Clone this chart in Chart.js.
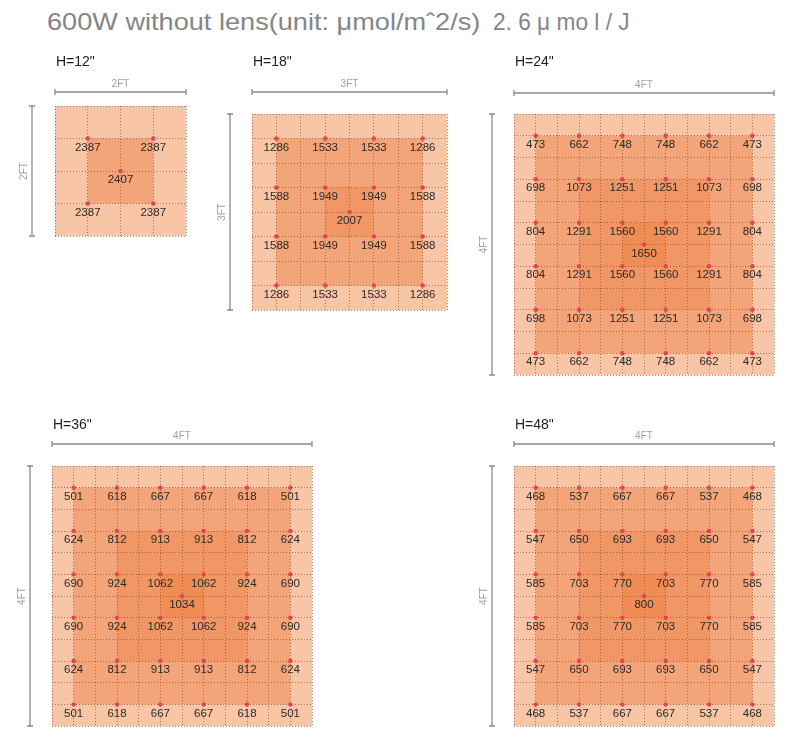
<!DOCTYPE html>
<html>
<head>
<meta charset="utf-8">
<script src="https://cdn.jsdelivr.net/npm/chart.js@4.4.1/dist/chart.umd.min.js"></script>
<style>
  body { margin: 0; background: #fff; width: 811px; height: 750px; position: relative; overflow: hidden; font-family: "Liberation Sans", Arial, sans-serif; }
  .head { position: absolute; top: 7px; font-size: 24px; color: #858585; white-space: nowrap; transform-origin: 0 0; line-height: 30px; }
  canvas { position: absolute; left: 0; top: 0; }
</style>
</head>
<body>
<span class="head" id="head1">600W without lens(unit: μmol/mˆ2/s)</span>
<span class="head" id="head2">2. 6 μ mo l / J</span>
<canvas id="c0"></canvas>
<canvas id="c1"></canvas>
<canvas id="c2"></canvas>
<canvas id="c3"></canvas>
<canvas id="c4"></canvas>
<script>
// Heights and area spans for each map
const heights = ['H=12"', 'H=18"', 'H=24"', 'H=36"', 'H=48"'];
const spans = ['2FT', '3FT', '4FT', '4FT', '4FT'];
const gridCells = [4, 8, 12, 12, 12];

// PPFD readings, row by row (µmol/m²/s)
const ppfd12 = [
  [2387, 2387],
  [2387, 2387]
];
const ppfd18 = [
  [1286, 1533, 1533, 1286],
  [1588, 1949, 1949, 1588],
  [1588, 1949, 1949, 1588],
  [1286, 1533, 1533, 1286]
];
const ppfd24 = [
  [473, 662, 748, 748, 662, 473],
  [698, 1073, 1251, 1251, 1073, 698],
  [804, 1291, 1560, 1560, 1291, 804],
  [804, 1291, 1560, 1560, 1291, 804],
  [698, 1073, 1251, 1251, 1073, 698],
  [473, 662, 748, 748, 662, 473]
];
const ppfd36 = [
  [501, 618, 667, 667, 618, 501],
  [624, 812, 913, 913, 812, 624],
  [690, 924, 1062, 1062, 924, 690],
  [690, 924, 1062, 1062, 924, 690],
  [624, 812, 913, 913, 812, 624],
  [501, 618, 667, 667, 618, 501]
];
const ppfd48 = [
  [468, 537, 667, 667, 537, 468],
  [547, 650, 693, 693, 650, 547],
  [585, 703, 770, 703, 770, 585],
  [585, 703, 770, 703, 770, 585],
  [547, 650, 693, 693, 650, 547],
  [468, 537, 667, 667, 537, 468]
];
const centerPpfd = [2407, 2007, 1650, 1034, 800];

// shaded bands: inset from the edge, in grid cells
const bands12 = [0, 1];
const bands18 = [0, 1, 3];
const bands4ft = [0, 1, 3, 5];

const grids = [ppfd12, ppfd18, ppfd24, ppfd36, ppfd48];
const bands = [bands12, bands18, bands4ft, bands4ft, bands4ft];

// layout on the page (pixels)
const boxes = [
  { l: 55,  t: 106, r: 186, b: 236, dimY: 92,  dimX: 32,  titleY: 62 },
  { l: 252, t: 114, r: 447, b: 310, dimY: 92,  dimX: 230, titleY: 62 },
  { l: 514, t: 114, r: 774, b: 375, dimY: 93,  dimX: 492, titleY: 62 },
  { l: 52,  t: 466, r: 312, b: 726, dimY: 444, dimX: 30,  titleY: 425 },
  { l: 514, t: 466, r: 774, b: 726, dimY: 444, dimX: 492, titleY: 425 }
];
const bandColors = ['#f8c5a6', '#f4a479', '#f19766', '#ef8d55'];
const W = 811, H = 750;

// fit the page heading into the width it has in the picture
function fitHead(id, left, right) {
  const el = document.getElementById(id);
  el.style.left = left + 'px';
  el.style.transform = 'scaleX(' + ((right - left) / el.offsetWidth) + ')';
}
fitHead('head1', 47, 480);
fitHead('head2', 493, 630);

function panelPlugin(i) {
  const box = boxes[i];
  return {
    id: 'panel' + i,
    beforeDraw(chart) {
      const { ctx, scales: { x, y } } = chart;
      const n = gridCells[i];
      bands[i].forEach((inset, k) => {
        const x0 = x.getPixelForValue(inset), x1 = x.getPixelForValue(n - inset);
        const y0 = y.getPixelForValue(inset), y1 = y.getPixelForValue(n - inset);
        ctx.fillStyle = bandColors[k];
        ctx.fillRect(Math.min(x0, x1), Math.min(y0, y1), Math.abs(x1 - x0), Math.abs(y1 - y0));
      });
    },
    afterDatasetsDraw(chart) {
      const ctx = chart.ctx;
      const meta = chart.getDatasetMeta(0);
      const data = chart.data.datasets[0].data;
      ctx.save();
      ctx.font = '11.5px "Liberation Sans", Arial, sans-serif';
      ctx.fillStyle = '#2a2a2a';
      ctx.textAlign = 'center';
      ctx.textBaseline = 'middle';
      meta.data.forEach((pt, k) => ctx.fillText(String(data[k].v), pt.x, pt.y + 9));
      ctx.restore();
    },
    afterDraw(chart) {
      const { ctx, chartArea: a } = chart;
      ctx.save();
      // panel title
      ctx.font = '14px "Liberation Sans", Arial, sans-serif';
      ctx.fillStyle = '#1e1e1e';
      ctx.textAlign = 'left';
      ctx.textBaseline = 'middle';
      ctx.fillText(heights[i], a.left + 1, box.titleY);
      // dimension lines
      ctx.strokeStyle = '#8c8c8c';
      ctx.lineWidth = 1.3;
      ctx.beginPath();
      ctx.moveTo(a.left, box.dimY); ctx.lineTo(a.right, box.dimY);
      ctx.moveTo(a.left, box.dimY - 3); ctx.lineTo(a.left, box.dimY + 3);
      ctx.moveTo(a.right, box.dimY - 3); ctx.lineTo(a.right, box.dimY + 3);
      ctx.moveTo(box.dimX, a.top); ctx.lineTo(box.dimX, a.bottom);
      ctx.moveTo(box.dimX - 3, a.top); ctx.lineTo(box.dimX + 3, a.top);
      ctx.moveTo(box.dimX - 3, a.bottom); ctx.lineTo(box.dimX + 3, a.bottom);
      ctx.stroke();
      ctx.font = '10px "Liberation Sans", Arial, sans-serif';
      ctx.fillStyle = '#a0a0a0';
      ctx.textAlign = 'center';
      ctx.fillText(spans[i], (a.left + a.right) / 2, box.dimY - 8);
      ctx.translate(box.dimX - 8, (a.top + a.bottom) / 2);
      ctx.rotate(-Math.PI / 2);
      ctx.fillText(spans[i], 0, 0);
      ctx.restore();
    }
  };
}

grids.forEach((rows, i) => {
  const n = gridCells[i];
  const points = [];
  rows.forEach((row, r) => row.forEach((v, c) => points.push({ x: 2 * c + 1, y: 2 * r + 1, v: v })));
  points.push({ x: n / 2, y: n / 2, v: centerPpfd[i] });

  const box = boxes[i];
  const canvas = document.getElementById('c' + i);
  canvas.width = W; canvas.height = H;
  canvas.style.width = W + 'px'; canvas.style.height = H + 'px';

  const axis = {
    type: 'linear',
    min: 0,
    max: n,
    ticks: { display: false, stepSize: 1, maxTicksLimit: 100 },
    grid: { color: 'rgba(135,65,30,0.65)', lineWidth: 1, drawTicks: false },
    border: { display: false, dash: [1, 2] }
  };

  new Chart(canvas, {
    type: 'scatter',
    data: {
      datasets: [{
        data: points,
        pointRadius: 2.2,
        pointBackgroundColor: '#e5434f',
        pointBorderWidth: 0
      }]
    },
    options: {
      responsive: false,
      animation: false,
      devicePixelRatio: 1,
      layout: { padding: { left: box.l, top: box.t, right: W - box.r, bottom: H - box.b } },
      scales: {
        x: axis,
        y: Object.assign({}, axis, { reverse: true })
      },
      plugins: { legend: { display: false }, tooltip: { enabled: false } },
      events: []
    },
    plugins: [panelPlugin(i)]
  });
});
</script>
</body>
</html>
